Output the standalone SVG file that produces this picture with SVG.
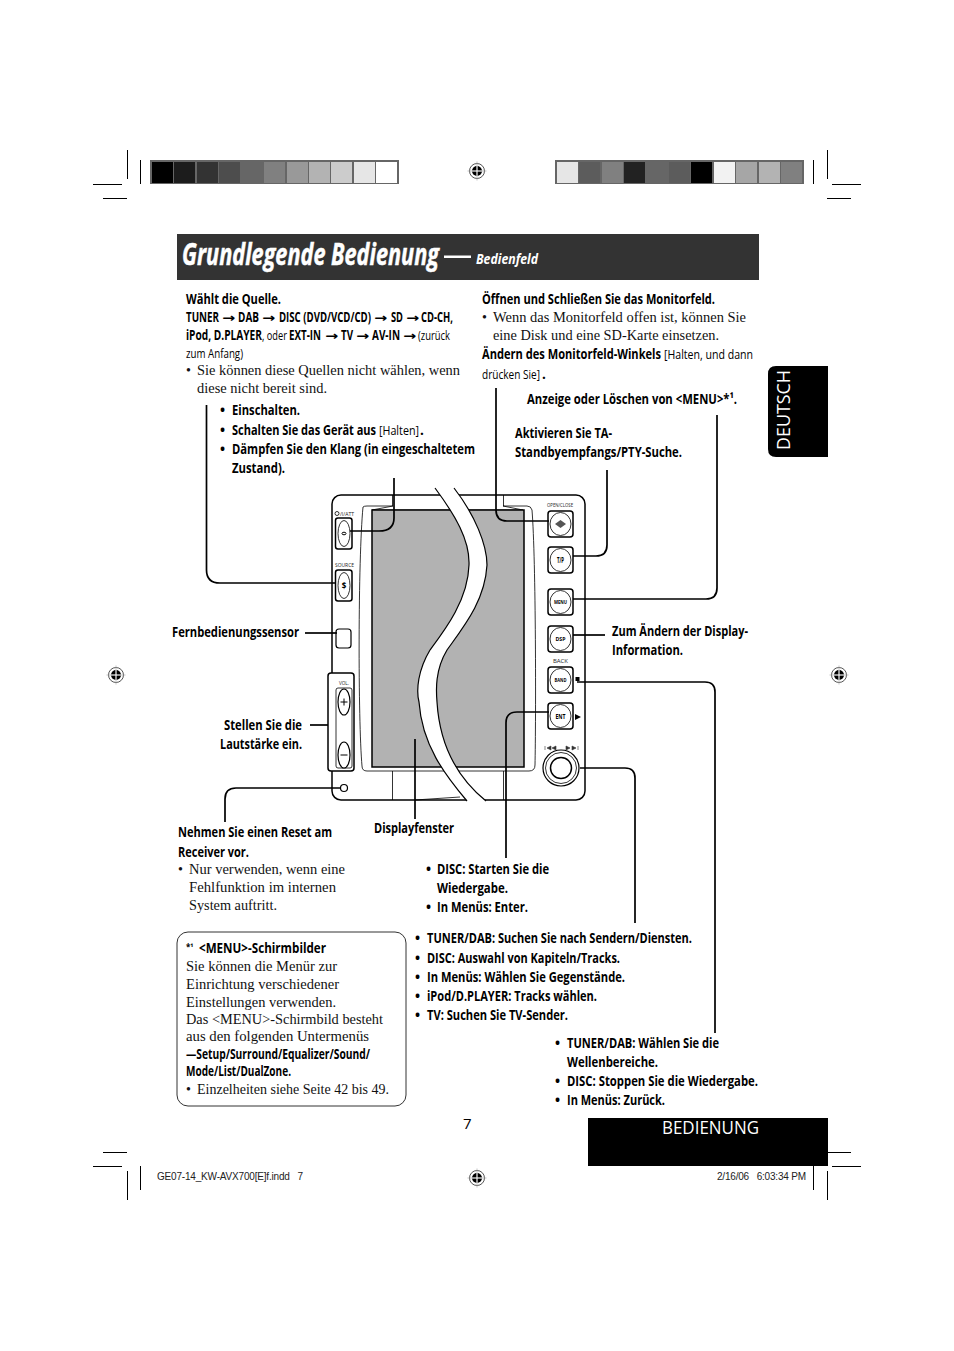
<svg xmlns="http://www.w3.org/2000/svg" width="954" height="1351" viewBox="0 0 954 1351">
<style>
text{fill:#000;white-space:pre}
.b{font:700 13.5px "Open Sans",sans-serif}
.r{font:400 13.5px "Open Sans",sans-serif}
.s{font:400 14px "Liberation Serif",serif;fill:#111}
.a{font:700 12px "DejaVu Sans",sans-serif}
.k{font:700 6px "Open Sans",sans-serif;text-anchor:middle}
.l{font:400 6px "Open Sans",sans-serif;fill:#222}
.f{font:400 10px "Liberation Sans",sans-serif;fill:#222}
.crop{stroke:#000;stroke-width:1;fill:none}
.lead{stroke:#000;stroke-width:1.7;fill:none}
.dev{stroke:#000;stroke-width:1.2;fill:#fff}
.btn{stroke:#000;stroke-width:1.5;fill:#fff}
.thin{stroke:#000;stroke-width:.8;fill:none}
</style>
<defs>
<g id="reg"><circle r="7.500" fill="#fff" stroke="#555" stroke-width="1"/><circle r="5" fill="#000"/><path d="M-9.500 0H9.500M0-9.500V9.500" stroke="#aaa" stroke-width=".7"/><path d="M-5 0H5M0-5V5" stroke="#fff" stroke-width=".9"/></g>
</defs>
<rect width="954" height="1351" fill="#fff"/>
<g id="crop-marks" class="crop">
<path d="M127.500 150V179M140.500 160V184M93 184.500H122M103 198.500H127"/>
<path d="M827.500 150V179M813.500 160V184M832 184.500H861M827 198.500H851"/>
<path d="M127.500 1171V1200M140.500 1166V1190M103 1152.500H127M93 1166.500H122"/>
<path d="M827.500 1171V1200M813.500 1166V1190M827 1152.500H851M832 1166.500H861"/>
</g>
<g id="colorbar-left">
<rect x="150" y="160" width="249" height="24" fill="#666"/>
<rect x="152" y="162" width="21" height="21" fill="#000"/><rect x="174" y="162" width="21" height="21" fill="#1c1c1c"/><rect x="197" y="162" width="21" height="21" fill="#333"/><rect x="219" y="162" width="21" height="21" fill="#4d4d4d"/><rect x="242" y="162" width="21" height="21" fill="#666"/><rect x="264" y="162" width="21" height="21" fill="#808080"/><rect x="287" y="162" width="21" height="21" fill="#999"/><rect x="309" y="162" width="21" height="21" fill="#b3b3b3"/><rect x="331" y="162" width="21" height="21" fill="#ccc"/><rect x="354" y="162" width="21" height="21" fill="#e6e6e6"/><rect x="376" y="162" width="21" height="21" fill="#fff"/>
</g>
<g id="colorbar-right">
<rect x="555" y="160" width="249" height="24" fill="#666"/>
<rect x="557" y="162" width="21" height="21" fill="#e6e6e6"/><rect x="579" y="162" width="21" height="21" fill="#5c5c5c"/><rect x="602" y="162" width="21" height="21" fill="#808080"/><rect x="624" y="162" width="21" height="21" fill="#222"/><rect x="647" y="162" width="21" height="21" fill="#666"/><rect x="669" y="162" width="21" height="21" fill="#5c5c5c"/><rect x="691" y="162" width="21" height="21" fill="#000"/><rect x="714" y="162" width="21" height="21" fill="#f2f2f2"/><rect x="736" y="162" width="21" height="21" fill="#a6a6a6"/><rect x="759" y="162" width="21" height="21" fill="#b3b3b3"/><rect x="781" y="162" width="21" height="21" fill="#808080"/>
</g>
<g id="registration-marks"><use href="#reg" x="477" y="171"/><use href="#reg" x="116" y="675"/><use href="#reg" x="839" y="675"/><use href="#reg" x="477" y="1178"/></g>
<g id="title">
<rect x="177" y="234" width="582" height="46" fill="#333"/>
<text x="182" y="265" textLength="257" lengthAdjust="spacingAndGlyphs" style="font:italic 700 30px 'Open Sans',sans-serif;fill:#fff;stroke:#fff;stroke-width:.5">Grundlegende Bedienung</text>
<rect x="444" y="255.500" width="27" height="2.500" fill="#fff"/>
<text x="476" y="264" textLength="62" lengthAdjust="spacingAndGlyphs" style="font:italic 700 14px 'Open Sans',sans-serif;fill:#fff">Bedienfeld</text>
</g>
<g id="tab-deutsch">
<path d="M776 366H828V457H776Q768 457 768 449V374Q768 366 776 366Z" fill="#000"/>
<text transform="translate(790 450) rotate(-90)" textLength="80" lengthAdjust="spacingAndGlyphs" style="font:400 19px 'Open Sans',sans-serif;fill:#fff">DEUTSCH</text>
</g>
<g id="tab-bedienung">
<rect x="588" y="1118" width="240" height="48" fill="#000"/>
<text x="662" y="1134" textLength="97" lengthAdjust="spacingAndGlyphs" style="font:400 18px 'Open Sans',sans-serif;fill:#fff">BEDIENUNG</text>
</g>
<g id="device">
<rect class="dev" x="332" y="495" width="253" height="305" rx="9" style="stroke-width:1.500"/>
<path class="thin" d="M392.500 495V506M503.500 495V506M392.500 771V800M503.500 771V800M415 800L460 797"/>
<path class="thin" d="M363 507C358 560 358 720 362 766Q362 771 367 771H529Q535 771 535 765C536 720 536 560 532 510Q531 506 527 506H503L523 510H372L393 506H367Q364 506 363 507Z"/>
<rect x="372" y="510" width="152" height="257" fill="#b2b2b2" stroke="#000" stroke-width="1.500"/>
<g id="btn-power"><rect class="btn" x="335.500" y="518" width="16.500" height="31" rx="2.500"/><ellipse class="thin" cx="344" cy="533.500" rx="6" ry="13"/><ellipse cx="344" cy="533.500" rx="2" ry="1.300" fill="none" stroke="#000"/><circle cx="337" cy="513.500" r="2" class="thin"/><text class="l" x="340" y="516" textLength="14" lengthAdjust="spacingAndGlyphs">/I/ATT</text></g>
<g id="btn-source"><rect class="btn" x="335.500" y="570" width="16.500" height="31" rx="2.500"/><ellipse class="thin" cx="344" cy="585.500" rx="6" ry="13"/><text class="k" style="font-size:8px" x="344" y="588.500">$</text><text class="l" x="335" y="567" textLength="19" lengthAdjust="spacingAndGlyphs">SOURCE</text></g>
<rect id="remote-sensor" class="dev" x="336" y="629" width="15" height="19" rx="3"/>
<g id="volume"><rect x="328" y="673" width="26" height="98" rx="3" fill="#fff" stroke="#000" stroke-width="1.500"/><rect class="thin" x="336" y="688" width="16" height="80" rx="2"/><text class="l" x="339" y="685" textLength="10" lengthAdjust="spacingAndGlyphs">VOL.</text><ellipse class="dev" cx="344" cy="702" rx="6" ry="13"/><ellipse class="dev" cx="344" cy="755" rx="6" ry="13"/><path d="M340.500 702H347.500M344 698.500V705.500M340.500 755H347.500" stroke="#000" stroke-width="1"/></g>
<circle id="reset" class="dev" cx="344" cy="788" r="3.500"/>
<g id="btn-open"><rect class="btn" x="548" y="511" width="25" height="26" rx="3"/><ellipse class="thin" cx="560.500" cy="524" rx="10.500" ry="11.500"/><path d="M555 524L560.500 520 566 524 560.500 528Z" fill="#555"/><text class="l" x="547" y="507" textLength="26" lengthAdjust="spacingAndGlyphs">OPEN/CLOSE</text></g>
<g id="btn-tp"><rect class="btn" x="548" y="547" width="25" height="26" rx="3"/><ellipse class="thin" cx="560.500" cy="560" rx="10.500" ry="11.500"/><text class="k" x="560.500" y="563" textLength="7" lengthAdjust="spacingAndGlyphs" style="font-size:8px">T/P</text></g>
<g id="btn-menu"><rect class="btn" x="548" y="589" width="25" height="26" rx="3"/><ellipse class="thin" cx="560.500" cy="602" rx="10.500" ry="11.500"/><text class="k" x="560.500" y="604" textLength="13" lengthAdjust="spacingAndGlyphs">MENU</text></g>
<g id="btn-dsp"><rect class="btn" x="548" y="626" width="25" height="26" rx="3"/><ellipse class="thin" cx="560.500" cy="639" rx="10.500" ry="11.500"/><text class="k" x="560.500" y="641" textLength="10" lengthAdjust="spacingAndGlyphs">DSP</text></g>
<g id="btn-band"><rect class="btn" x="548" y="667" width="25" height="26" rx="3"/><ellipse class="thin" cx="560.500" cy="680" rx="10.500" ry="11.500"/><text class="k" x="560.500" y="682" textLength="12" lengthAdjust="spacingAndGlyphs">BAND</text><text class="l" x="553" y="663" textLength="15" lengthAdjust="spacingAndGlyphs">BACK</text><rect x="575.500" y="677" width="4" height="4" fill="#000"/></g>
<g id="btn-ent"><rect class="btn" x="548" y="703" width="25" height="26" rx="3"/><ellipse class="thin" cx="560.500" cy="716" rx="10.500" ry="11.500"/><text class="k" x="560.500" y="718.500" textLength="10" lengthAdjust="spacingAndGlyphs" style="font-size:7px">ENT</text><path d="M575 714L581 717 575 720Z" fill="#000"/></g>
<g id="knob"><circle class="dev" cx="561" cy="768" r="18"/><circle class="thin" cx="561" cy="768" r="15.500"/><circle class="dev" cx="561" cy="768" r="10.500" style="stroke-width:1.500"/><path d="M545 746V750M551 746L547 748 551 750ZM556 746L552 748 556 750ZM578 746V750M566 746L570 748 566 750ZM572 746L576 748 572 750Z" fill="#333" stroke="#333" stroke-width=".6"/></g>
</g>
<g id="connectors" class="lead">
<path d="M206.500 405V570Q206.500 583 220 583H336"/>
<path d="M394 478V518Q394 531 379 531H350"/>
<path d="M496 388V510Q496 521 507 521H549"/>
<path d="M607 470V545Q607 556 596 556H573"/>
<path d="M717 415V588Q717 599 706 599H573"/>
<path d="M573 635H605"/>
<path d="M577 682H705Q715 682 715 692V1033"/>
<path d="M549 712H517Q506 712 506 723V858"/>
<path d="M580 768H625Q635 768 635 778V923"/>
<path d="M305 633H337"/>
<path d="M310 725H328"/>
<path d="M340 788H236Q225 788 225 799V822"/>
<path d="M415 739V819"/>
</g>
<g id="s-curve"><path d="M435 488C455 515 470 540 469 565C468 600 445 630 430 650C418 670 416 690 419 702C422 745 445 775 467 801H486C460 780 440 750 437 702C436 690 435 670 447 650C465 625 485 600 487 565C487 545 475 515 454 488Z" fill="#fff"/><path d="M435 488C455 515 470 540 469 565C468 600 445 630 430 650C418 670 416 690 419 702C422 745 445 775 467 801M454 488C475 515 487 545 487 565C485 600 465 625 447 650C435 670 436 690 437 702C440 750 460 780 486 801" fill="none" stroke="#000" stroke-width="1.200"/></g>
<g id="text-source">
<text class="b" x="186" y="304" textLength="95" lengthAdjust="spacingAndGlyphs">Wählt die Quelle.</text>
<text class="b" x="186" y="322" textLength="33" lengthAdjust="spacingAndGlyphs">TUNER</text><text class="a" x="222" y="322" textLength="13" lengthAdjust="spacingAndGlyphs">→</text>
<text class="b" x="238" y="322" textLength="21" lengthAdjust="spacingAndGlyphs">DAB</text><text class="a" x="262" y="322" textLength="13" lengthAdjust="spacingAndGlyphs">→</text>
<text class="b" x="279" y="322" textLength="92" lengthAdjust="spacingAndGlyphs">DISC (DVD/VCD/CD)</text><text class="a" x="374" y="322" textLength="13" lengthAdjust="spacingAndGlyphs">→</text>
<text class="b" x="391" y="322" textLength="12" lengthAdjust="spacingAndGlyphs">SD</text><text class="a" x="406" y="322" textLength="13" lengthAdjust="spacingAndGlyphs">→</text>
<text class="b" x="421" y="322" textLength="32" lengthAdjust="spacingAndGlyphs">CD-CH,</text>
<text class="b" x="186" y="340" textLength="76" lengthAdjust="spacingAndGlyphs">iPod, D.PLAYER</text><text class="r" x="262" y="340" textLength="25" lengthAdjust="spacingAndGlyphs">, oder</text>
<text class="b" x="289" y="340" textLength="32" lengthAdjust="spacingAndGlyphs">EXT-IN</text><text class="a" x="325" y="340" textLength="13" lengthAdjust="spacingAndGlyphs">→</text>
<text class="b" x="341" y="340" textLength="12" lengthAdjust="spacingAndGlyphs">TV</text><text class="a" x="356" y="340" textLength="13" lengthAdjust="spacingAndGlyphs">→</text>
<text class="b" x="372" y="340" textLength="28" lengthAdjust="spacingAndGlyphs">AV-IN</text><text class="a" x="403" y="340" textLength="13" lengthAdjust="spacingAndGlyphs">→</text>
<text class="r" x="418" y="340" textLength="32" lengthAdjust="spacingAndGlyphs">(zurück</text>
<text class="r" x="186" y="358" textLength="57" lengthAdjust="spacingAndGlyphs">zum Anfang)</text>
<text class="s" x="186" y="375">•</text><text class="s" x="197" y="375" textLength="263" lengthAdjust="spacingAndGlyphs">Sie können diese Quellen nicht wählen, wenn</text>
<text class="s" x="197" y="393" textLength="130" lengthAdjust="spacingAndGlyphs">diese nicht bereit sind.</text>
</g>
<g id="text-power">
<text class="b" x="220" y="415">•</text><text class="b" x="232" y="415" textLength="68" lengthAdjust="spacingAndGlyphs">Einschalten.</text>
<text class="b" x="220" y="435">•</text><text class="b" x="232" y="435" textLength="144" lengthAdjust="spacingAndGlyphs">Schalten Sie das Gerät aus</text><text class="r" x="379" y="435" textLength="40" lengthAdjust="spacingAndGlyphs">[Halten]</text><text class="b" x="420" y="435">.</text>
<text class="b" x="220" y="454">•</text><text class="b" x="232" y="454" textLength="243" lengthAdjust="spacingAndGlyphs">Dämpfen Sie den Klang (in eingeschaltetem</text>
<text class="b" x="232" y="473" textLength="53" lengthAdjust="spacingAndGlyphs">Zustand).</text>
</g>
<g id="text-monitor">
<text class="b" x="482" y="304" textLength="233" lengthAdjust="spacingAndGlyphs">Öffnen und Schließen Sie das Monitorfeld.</text>
<text class="s" x="482" y="322">•</text><text class="s" x="493" y="322" textLength="253" lengthAdjust="spacingAndGlyphs">Wenn das Monitorfeld offen ist, können Sie</text>
<text class="s" x="493" y="340" textLength="226" lengthAdjust="spacingAndGlyphs">eine Disk und eine SD-Karte einsetzen.</text>
<text class="b" x="482" y="359" textLength="179" lengthAdjust="spacingAndGlyphs">Ändern des Monitorfeld-Winkels</text><text class="r" x="664" y="359" textLength="89" lengthAdjust="spacingAndGlyphs">[Halten, und dann</text>
<text class="r" x="482" y="379" textLength="58" lengthAdjust="spacingAndGlyphs">drücken Sie]</text><text class="b" x="542" y="379">.</text>
<text class="b" x="527" y="404" textLength="210" lengthAdjust="spacingAndGlyphs">Anzeige oder Löschen von &lt;MENU&gt;*¹.</text>
<text class="b" x="515" y="438" textLength="97" lengthAdjust="spacingAndGlyphs">Aktivieren Sie TA-</text>
<text class="b" x="515" y="457" textLength="167" lengthAdjust="spacingAndGlyphs">Standbyempfangs/PTY-Suche.</text>
</g>
<g id="text-side">
<text class="b" x="172" y="637" textLength="127" lengthAdjust="spacingAndGlyphs">Fernbedienungssensor</text>
<text class="b" x="612" y="636" textLength="136" lengthAdjust="spacingAndGlyphs">Zum Ändern der Display-</text>
<text class="b" x="612" y="655" textLength="71" lengthAdjust="spacingAndGlyphs">Information.</text>
<text class="b" x="224" y="730" textLength="78" lengthAdjust="spacingAndGlyphs">Stellen Sie die</text>
<text class="b" x="220" y="749" textLength="82" lengthAdjust="spacingAndGlyphs">Lautstärke ein.</text>
<text class="b" x="374" y="833" textLength="80" lengthAdjust="spacingAndGlyphs">Displayfenster</text>
</g>
<g id="text-reset">
<text class="b" x="178" y="837" textLength="154" lengthAdjust="spacingAndGlyphs">Nehmen Sie einen Reset am</text>
<text class="b" x="178" y="857" textLength="71" lengthAdjust="spacingAndGlyphs">Receiver vor.</text>
<text class="s" x="178" y="874">•</text><text class="s" x="189" y="874" textLength="156" lengthAdjust="spacingAndGlyphs">Nur verwenden, wenn eine</text>
<text class="s" x="189" y="892" textLength="147" lengthAdjust="spacingAndGlyphs">Fehlfunktion im internen</text>
<text class="s" x="189" y="910" textLength="88" lengthAdjust="spacingAndGlyphs">System auftritt.</text>
</g>
<g id="text-enter">
<text class="b" x="426" y="874">•</text><text class="b" x="437" y="874" textLength="112" lengthAdjust="spacingAndGlyphs">DISC: Starten Sie die</text>
<text class="b" x="437" y="893" textLength="71" lengthAdjust="spacingAndGlyphs">Wiedergabe.</text>
<text class="b" x="426" y="912">•</text><text class="b" x="437" y="912" textLength="91" lengthAdjust="spacingAndGlyphs">In Menüs: Enter.</text>
</g>
<g id="text-knob">
<text class="b" x="415" y="943">•</text><text class="b" x="427" y="943" textLength="265" lengthAdjust="spacingAndGlyphs">TUNER/DAB: Suchen Sie nach Sendern/Diensten.</text>
<text class="b" x="415" y="963">•</text><text class="b" x="427" y="963" textLength="193" lengthAdjust="spacingAndGlyphs">DISC: Auswahl von Kapiteln/Tracks.</text>
<text class="b" x="415" y="982">•</text><text class="b" x="427" y="982" textLength="198" lengthAdjust="spacingAndGlyphs">In Menüs: Wählen Sie Gegenstände.</text>
<text class="b" x="415" y="1001">•</text><text class="b" x="427" y="1001" textLength="170" lengthAdjust="spacingAndGlyphs">iPod/D.PLAYER: Tracks wählen.</text>
<text class="b" x="415" y="1020">•</text><text class="b" x="427" y="1020" textLength="141" lengthAdjust="spacingAndGlyphs">TV: Suchen Sie TV-Sender.</text>
</g>
<g id="text-band">
<text class="b" x="555" y="1048">•</text><text class="b" x="567" y="1048" textLength="152" lengthAdjust="spacingAndGlyphs">TUNER/DAB: Wählen Sie die</text>
<text class="b" x="567" y="1067" textLength="91" lengthAdjust="spacingAndGlyphs">Wellenbereiche.</text>
<text class="b" x="555" y="1086">•</text><text class="b" x="567" y="1086" textLength="191" lengthAdjust="spacingAndGlyphs">DISC: Stoppen Sie die Wiedergabe.</text>
<text class="b" x="555" y="1105">•</text><text class="b" x="567" y="1105" textLength="98" lengthAdjust="spacingAndGlyphs">In Menüs: Zurück.</text>
</g>
<g id="menu-note">
<rect x="177" y="932" width="229" height="174" rx="11" fill="#fff" stroke="#333" stroke-width="1"/>
<text class="b" x="186" y="950" style="font-size:8px">*¹</text><text class="b" x="199" y="953" textLength="127" lengthAdjust="spacingAndGlyphs">&lt;MENU&gt;-Schirmbilder</text>
<text class="s" x="186" y="971" textLength="151" lengthAdjust="spacingAndGlyphs">Sie können die Menür zur</text>
<text class="s" x="186" y="989" textLength="153" lengthAdjust="spacingAndGlyphs">Einrichtung verschiedener</text>
<text class="s" x="186" y="1007" textLength="150" lengthAdjust="spacingAndGlyphs">Einstellungen verwenden.</text>
<text class="s" x="186" y="1024" textLength="197" lengthAdjust="spacingAndGlyphs">Das &lt;MENU&gt;-Schirmbild besteht</text>
<text class="s" x="186" y="1041" textLength="183" lengthAdjust="spacingAndGlyphs">aus den folgenden Untermenüs</text>
<text class="b" x="186" y="1059" textLength="184" lengthAdjust="spacingAndGlyphs">—Setup/Surround/Equalizer/Sound/</text>
<text class="b" x="186" y="1076" textLength="105" lengthAdjust="spacingAndGlyphs">Mode/List/DualZone.</text>
<text class="s" x="186" y="1094">•</text><text class="s" x="197" y="1094" textLength="192" lengthAdjust="spacingAndGlyphs">Einzelheiten siehe Seite 42 bis 49.</text>
</g>
<g id="footer">
<text x="463" y="1129" style="font:400 15px 'Open Sans',sans-serif">7</text>
<text class="f" x="157" y="1180" textLength="146" lengthAdjust="spacing">GE07-14_KW-AVX700[E]f.indd   7</text>
<text class="f" x="717" y="1180" textLength="89" lengthAdjust="spacing">2/16/06   6:03:34 PM</text>
</g>
</svg>
